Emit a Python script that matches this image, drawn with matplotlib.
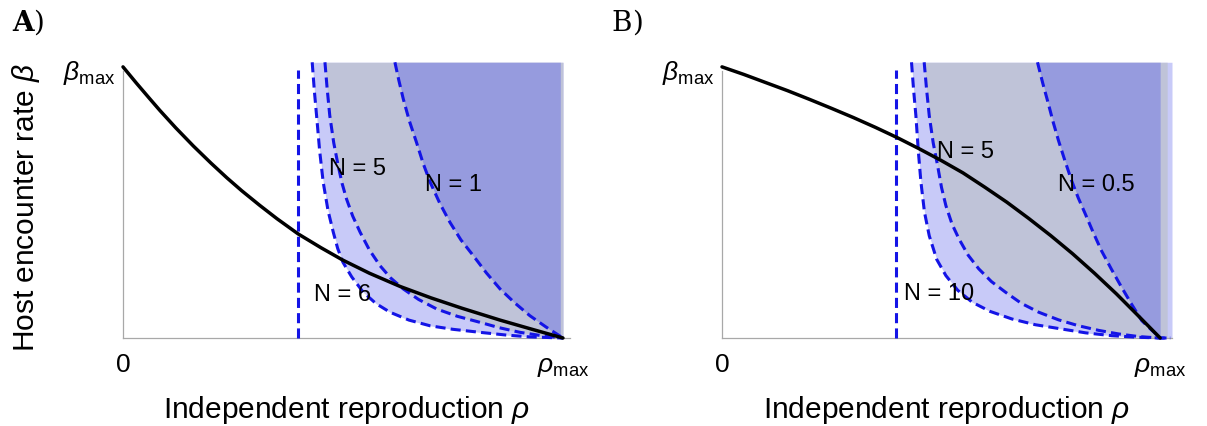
import matplotlib
matplotlib.use("Agg")
import matplotlib.pyplot as plt

plt.rcParams['font.family'] = ['Liberation Sans', 'DejaVu Sans']
plt.rcParams['mathtext.fontset'] = 'custom'
plt.rcParams['mathtext.rm'] = 'Liberation Sans'
plt.rcParams['mathtext.it'] = 'Liberation Sans:italic'
plt.rcParams['mathtext.bf'] = 'Liberation Sans:bold'

# ---------------- data (normalised: rho/rho_max, beta/beta_max) ----------------
# Panel A
a_black_x = [0, 0.03, 0.06, 0.084, 0.12, 0.16, 0.2, 0.236, 0.27, 0.311, 0.35, 0.398,
             0.45, 0.5, 0.56, 0.63, 0.7, 0.77, 0.857, 0.93, 1.0]
a_black_y = [1, 0.941, 0.884, 0.839, 0.775, 0.708, 0.645, 0.591, 0.543, 0.489, 0.440, 0.384,
             0.333, 0.287, 0.239, 0.19, 0.148, 0.110, 0.066, 0.032, 0]
a_vline_x = 0.398
a_n6_x = [0.430, 0.435, 0.44, 0.447, 0.455, 0.466, 0.478, 0.488, 0.50, 0.52, 0.546, 0.575,
          0.607, 0.65, 0.698, 0.75, 0.811, 0.87, 0.925, 1.0]
a_n6_y = [1.017, 0.91, 0.82, 0.69, 0.575, 0.47, 0.39, 0.33, 0.279, 0.225, 0.169, 0.127,
          0.095, 0.066, 0.045, 0.032, 0.021, 0.011, 0.004, 0]
a_n5_x = [0.459, 0.464, 0.470, 0.479, 0.489, 0.498, 0.508, 0.522, 0.539, 0.56, 0.584, 0.608,
          0.637, 0.672, 0.713, 0.76, 0.811, 0.855, 0.902, 0.95, 1.0]
a_n5_y = [1.017, 0.92, 0.82, 0.72, 0.636, 0.57, 0.513, 0.45, 0.39, 0.325, 0.267, 0.222,
          0.181, 0.142, 0.107, 0.08, 0.058, 0.038, 0.021, 0.009, 0]
a_n1_x = [0.618, 0.627, 0.637, 0.651, 0.667, 0.682, 0.698, 0.72, 0.743, 0.768, 0.796, 0.826,
          0.857, 0.89, 0.925, 0.962, 1.0]
a_n1_y = [1.017, 0.95, 0.882, 0.80, 0.722, 0.645, 0.575, 0.497, 0.427, 0.362, 0.304, 0.24,
          0.181, 0.13, 0.082, 0.04, 0.0]
a_labels = ["N = 5", "N = 1", "N = 6"]
a_label_x = [0.534, 0.752, 0.498]
a_label_y = [0.627, 0.568, 0.162]

# Panel B
b_black_x = [0, 0.05, 0.1, 0.15, 0.2, 0.25, 0.3, 0.35, 0.4, 0.45, 0.5, 0.55, 0.6, 0.65,
             0.7, 0.75, 0.8, 0.85, 0.9, 0.95, 1.0]
b_black_y = [1, 0.972, 0.942, 0.912, 0.88, 0.847, 0.813, 0.777, 0.739, 0.698, 0.655, 0.609,
             0.556, 0.501, 0.441, 0.378, 0.311, 0.239, 0.163, 0.082, 0]
b_vline_x = 0.398
b_n10_x = [0.4325, 0.437, 0.4425, 0.448, 0.454, 0.462, 0.473, 0.49, 0.511, 0.538, 0.571,
           0.612, 0.662, 0.715, 0.776, 0.83, 0.89, 0.945, 1.0, 1.023]
b_n10_y = [1.017, 0.92, 0.82, 0.69, 0.575, 0.465, 0.377, 0.29, 0.23, 0.176, 0.132,
           0.098, 0.07, 0.049, 0.033, 0.019, 0.0085, 0.003, 0, 0]
b_n5_x = [0.4614, 0.467, 0.473, 0.482, 0.492, 0.501, 0.511, 0.525, 0.541, 0.562, 0.586,
          0.615, 0.647, 0.683, 0.723, 0.768, 0.814, 0.86, 0.905, 0.952, 1.0, 1.023]
b_n5_y = [1.017, 0.915, 0.82, 0.72, 0.636, 0.555, 0.488, 0.42, 0.365, 0.305, 0.255,
          0.208, 0.169, 0.128, 0.095, 0.067, 0.045, 0.028, 0.015, 0.005, 0, 0]
b_n05_x = [0.72, 0.732, 0.745, 0.756, 0.768, 0.783, 0.798, 0.813, 0.829, 0.847, 0.866,
           0.889, 0.912, 0.935, 0.958, 0.98, 1.0]
b_n05_y = [1.017, 0.94, 0.863, 0.795, 0.728, 0.652, 0.58, 0.517, 0.458, 0.39, 0.322,
           0.253, 0.187, 0.124, 0.064, 0.03, 0]
b_labels = ["N = 5", "N = 0.5", "N = 10"]
b_label_x = [0.555, 0.855, 0.495]
b_label_y = [0.69, 0.568, 0.166]

panel_letters = ["A", "B"]
xlabel_text = r"Independent reproduction $\rho$"
ylabel_text = r"Host encounter rate $\beta$"

# ---------------- style ----------------
W, H = 1207, 427
C_LAV = "#c8caf8"
C_GRAY = "#bfc3d8"
C_DARK = "#969bde"
C_DASH = "#1414e6"
C_SPINE = "#a8a8a8"
DLW = 2.2
DASHES = (3.3, 1.7)

fig = plt.figure(figsize=(W / 100, H / 100), dpi=100)


def make_axes(left_px, width_px, xmax):
    ax = fig.add_axes([left_px / W, 88 / H, width_px / W, 276 / H])
    ax.set_xlim(0, xmax)
    ax.set_ylim(0, 1.018)
    for s in ("top", "right"):
        ax.spines[s].set_visible(False)
    for s in ("left", "bottom"):
        ax.spines[s].set_color(C_SPINE)
        ax.spines[s].set_linewidth(0.9)
    ax.spines["left"].set_bounds(0, 0.985)
    ax.set_xticks([])
    ax.set_yticks([])
    ax.patch.set_alpha(0)
    return ax


def decorate(ax):
    ax.text(0, -0.122, "0", ha="center", va="baseline", fontsize=19)
    ax.text(1.0, -0.122, r"$\rho_{\mathrm{max}}$", ha="center", va="baseline", fontsize=19)
    ax.text(-0.018, 0.956, r"$\beta_{\mathrm{max}}$", ha="right", va="baseline", fontsize=19)


def dashed(ax, x, y):
    ax.plot(x, y, color=C_DASH, lw=DLW, dashes=DASHES, clip_on=False, zorder=4)


# ---------- Panel A ----------
axA = make_axes(123, 447, 1.016)
axA.fill_betweenx(a_n6_y, a_n6_x, 1.0, color=C_LAV, lw=0, zorder=1)
axA.fill_betweenx(a_n5_y, a_n5_x, 1.0, color=C_GRAY, lw=0, zorder=1.1)
axA.fill_betweenx(a_n1_y, a_n1_x, 0.994, color=C_DARK, lw=0, zorder=1.2)
axA.plot([a_vline_x, a_vline_x], [0, 0.99], color=C_DASH, lw=DLW, dashes=DASHES,
         clip_on=False, zorder=4)
dashed(axA, a_n6_x, a_n6_y)
dashed(axA, a_n5_x, a_n5_y)
dashed(axA, a_n1_x, a_n1_y)
axA.plot(a_black_x, a_black_y, color="black", lw=2.5, clip_on=False, zorder=5,
         solid_capstyle="round")
for t, x, y in zip(a_labels, a_label_x, a_label_y):
    axA.text(x, y, t, ha="center", va="center", fontsize=17, zorder=6)
decorate(axA)

# ---------- Panel B ----------
axB = make_axes(722, 450, 1.027)
axB.fill_betweenx(b_n10_y[:-1], b_n10_x[:-1], 1.027, color=C_LAV, lw=0, zorder=1)
axB.fill_betweenx(b_n5_y[:-1], b_n5_x[:-1], 1.016, color=C_GRAY, lw=0, zorder=1.1)
axB.fill_betweenx(b_n05_y, b_n05_x, 1.0, color=C_DARK, lw=0, zorder=1.2)
axB.plot([b_vline_x, b_vline_x], [0, 0.99], color=C_DASH, lw=DLW, dashes=DASHES,
         clip_on=False, zorder=4)
dashed(axB, b_n10_x, b_n10_y)
dashed(axB, b_n5_x, b_n5_y)
dashed(axB, b_n05_x, b_n05_y)
axB.plot(b_black_x, b_black_y, color="black", lw=2.5, clip_on=False, zorder=5,
         solid_capstyle="round")
for t, x, y in zip(b_labels, b_label_x, b_label_y):
    axB.text(x, y, t, ha="center", va="center", fontsize=17, zorder=6)
decorate(axB)

# ---------- axis labels / panel letters ----------
fig.text(347 / W, 9 / H, xlabel_text, ha="center", va="baseline", fontsize=21.5)
fig.text(947 / W, 9 / H, xlabel_text, ha="center", va="baseline", fontsize=21.5)
fig.text(26 / W, (H - 207) / H, ylabel_text, ha="center", va="center", rotation=90,
         fontsize=21.5)

for letter, xpx, wt in zip(panel_letters, [12, 611], ["bold", "normal"]):
    fig.text(xpx / W, (H - 31) / H, letter, ha="left", va="baseline", fontsize=20,
             family="DejaVu Serif", weight=wt)
    fig.text((xpx + 21) / W, (H - 31) / H, ")", ha="left", va="baseline", fontsize=20,
             family="DejaVu Serif", weight="light")

fig.savefig("out.png", dpi=100)
